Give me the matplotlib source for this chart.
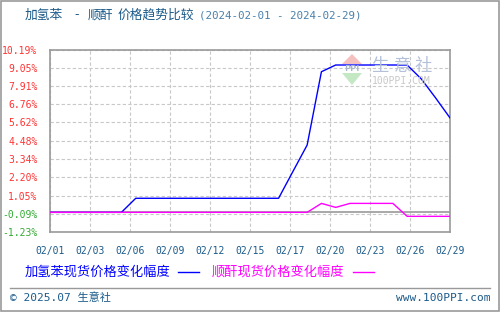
import matplotlib
matplotlib.use('Agg')
import matplotlib.pyplot as plt
from matplotlib.patches import Polygon, Rectangle
from matplotlib.lines import Line2D
import numpy as np

plt.rcParams['font.family'] = ['Noto Sans CJK SC', 'DejaVu Sans']
MONO = ['DejaVu Sans Mono', 'Noto Sans CJK SC']

# ---- data ----
days = list(range(1, 30))  # 2024-02-01 .. 2024-02-29
benzene = [0, 0, 0, 0, 0, 0,
           0.88, 0.88, 0.88, 0.88, 0.88, 0.88, 0.88, 0.88, 0.88, 0.88, 0.88,
           2.55, 4.21, 8.80,
           9.22, 9.22, 9.22, 9.22, 9.22, 9.22,
           8.34, 7.15, 5.91]
maleic = [0] * 19 + [0.56, 0.31, 0.56, 0.56, 0.56, 0.56, -0.25, -0.25, -0.25, -0.25]

x_labels = ['02/01', '02/03', '02/06', '02/09', '02/12', '02/15',
            '02/17', '02/20', '02/23', '02/26', '02/29']
y_labels = ['-1.23%', '-0.09%', '1.05%', '2.20%', '3.34%', '4.48%',
            '5.62%', '6.76%', '7.91%', '9.05%', '10.19%']
y_min, y_max = -1.23, 10.19

title_parts = ['加氢苯', '-', '顺酐', '价格趋势比较']
title_range = '(2024-02-01 - 2024-02-29)'
name_benzene = '加氢苯现货价格变化幅度'
name_maleic = '顺酐现货价格变化幅度'

W, H = 500, 312
dark = '#1a5a8a'
grid_c = '#c8c8c8'
frame_c = '#999999'


def px(x, y):
    return (x / W, 1 - y / H)


fig = plt.figure(figsize=(5, 3.12), dpi=100)
fig.patch.set_facecolor('white')

# outer border
fig.add_artist(Rectangle((0.001, 0.002), 0.997, 0.995, transform=fig.transFigure,
                         fill=False, edgecolor=frame_c, linewidth=1.2))

ax = fig.add_axes([50 / W, 80 / H, 400 / W, 182.5 / H])
ax.set_xlim(1, 29)
ax.set_ylim(y_min, y_max)

xt = np.linspace(1, 29, len(x_labels))
yt = np.linspace(y_min, y_max, len(y_labels))
ax.set_xticks(xt)
ax.set_xticklabels(x_labels, fontsize=7, color=dark, family=MONO)
ax.set_yticks(yt)
ax.set_yticklabels(y_labels, fontsize=7, family=MONO)
for lab, v in zip(ax.get_yticklabels(), yt):
    lab.set_color('#ff3333' if v > 0 else '#33aa33')
ax.tick_params(length=0)
ax.tick_params(axis='y', pad=9)
ax.tick_params(axis='x', pad=10)
ax.grid(True, color=grid_c, linestyle=(0, (3, 2)), linewidth=0.8)
for s in ax.spines.values():
    s.set_color(frame_c)
    s.set_linewidth(1.2)
ax.axhline(0, color=frame_c, linewidth=1.2, zorder=2)

ax.plot(days, benzene, color='#0000ff', linewidth=1.0, zorder=4)
ax.plot(days, maleic, color='#ff00ff', linewidth=1.0, zorder=4)

# watermark logo
fig.add_artist(Polygon([px(342, 64), px(352, 54), px(362, 64)], closed=True,
                       transform=fig.transFigure, facecolor='#f4c0c0', edgecolor='none', zorder=1))
fig.add_artist(Polygon([px(342, 73), px(352, 85), px(362, 73)], closed=True,
                       transform=fig.transFigure, facecolor='#c4e8c4', edgecolor='none', zorder=1))
fig.text(*px(352, 68.5), 'PPI', fontsize=6.5, color='#a8b4cc', ha='center', va='center',
         fontweight='bold', zorder=1)
for ch, cx in zip('生意社', [380, 403, 423]):
    fig.text(*px(cx, 66), ch, fontsize=12.5, color='#b4c0da', ha='center', va='center', zorder=1)
fig.text(*px(401, 81), '100PPI.COM', fontsize=7, color='#c8c8c8', ha='center', va='center',
         family=MONO, zorder=1)

# title
for part, tx in zip(title_parts, [25, 74, 88, 118]):
    fig.text(*px(tx, 15), part, fontsize=9.2, color=dark, ha='left', va='center')
fig.text(*px(199, 15), title_range, fontsize=7.8, color='#4a80aa', ha='left', va='center',
         family=MONO)

# legend
fig.text(*px(25, 272), name_benzene, fontsize=9.5, color='#0000ff', ha='left', va='center')
fig.add_artist(Line2D([178 / W, 199 / W], [1 - 272 / H] * 2, transform=fig.transFigure,
                      color='#0000ff', linewidth=1.0))
fig.text(*px(212, 272), name_maleic, fontsize=9.5, color='#ff00ff', ha='left', va='center')
fig.add_artist(Line2D([353 / W, 374 / W], [1 - 272 / H] * 2, transform=fig.transFigure,
                      color='#ff00ff', linewidth=1.0))

# footer
fig.add_artist(Line2D([10 / W, 490 / W], [1 - 288 / H] * 2, transform=fig.transFigure,
                      color=frame_c, linewidth=1.0))
fig.text(*px(10, 298), '© 2025.07 生意社', fontsize=8, color=dark, ha='left', va='center',
         family=MONO)
fig.text(*px(490, 298), 'www.100PPI.com', fontsize=8, color=dark, ha='right', va='center',
         family=MONO)

fig.savefig('out.png', dpi=100)
